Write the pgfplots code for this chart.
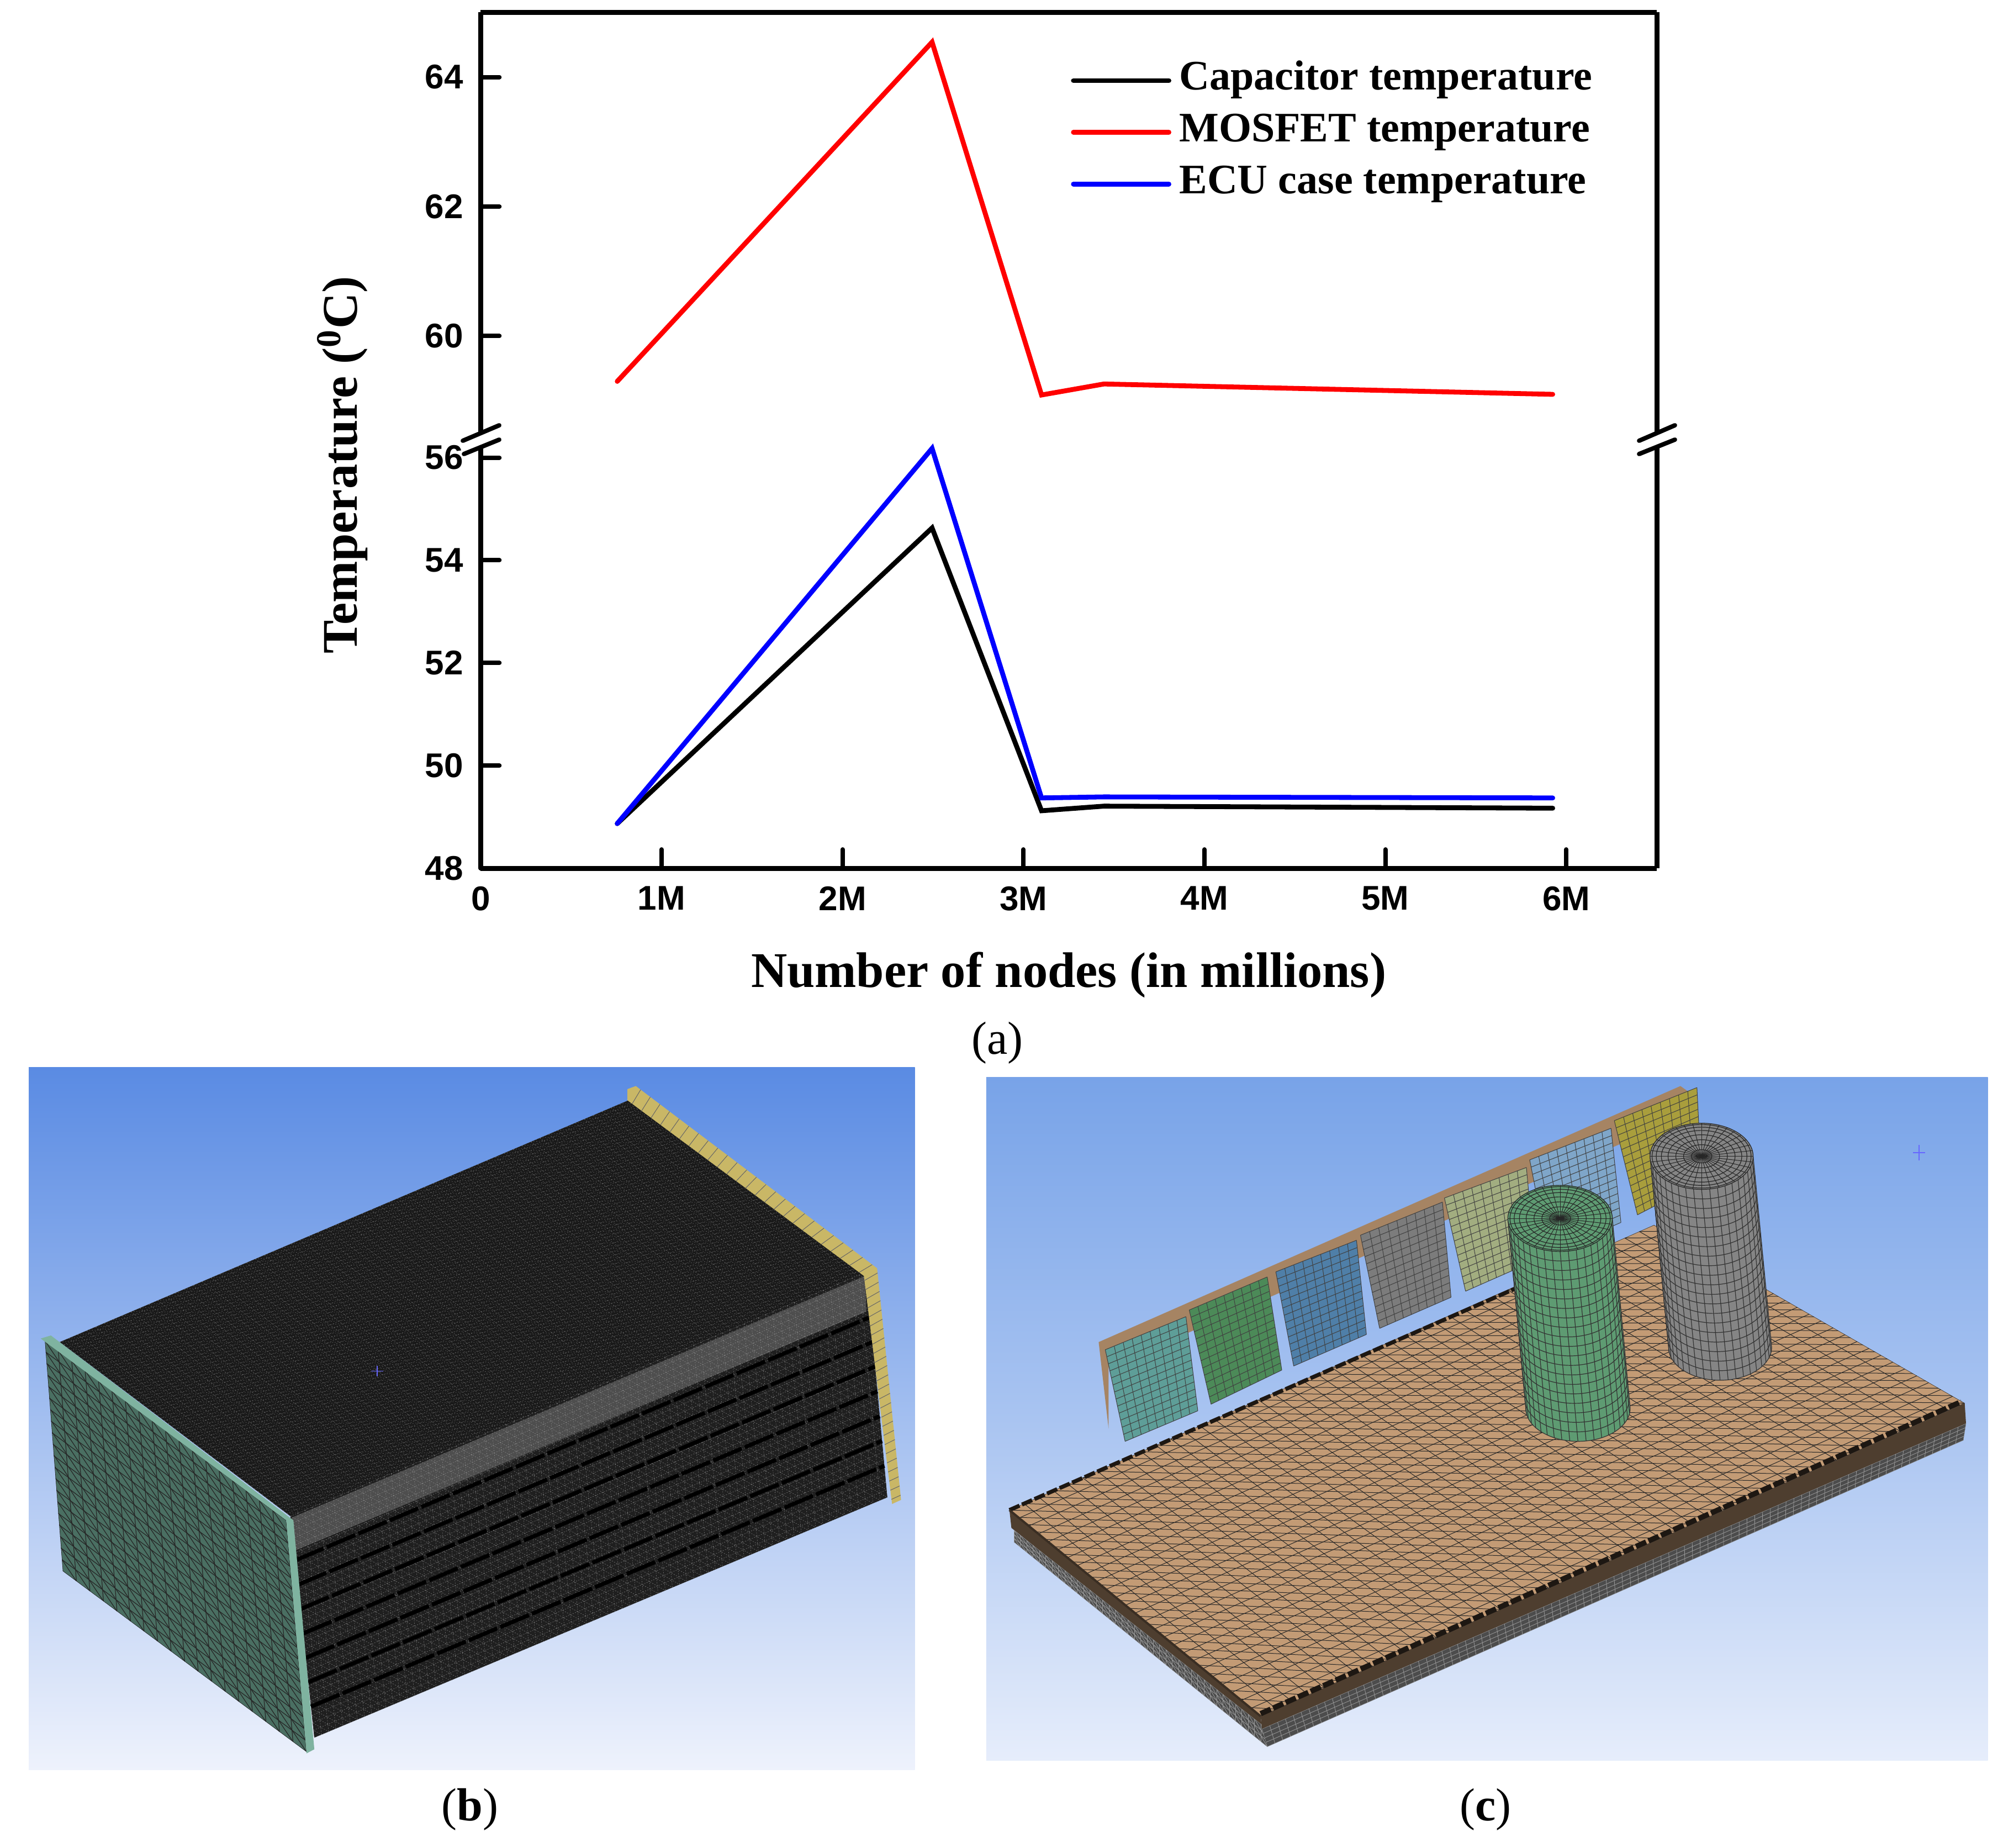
\documentclass[border=0pt]{standalone}
\usepackage{fontspec}
\setmainfont{Liberation Serif}
\newfontfamily\ticksans{Liberation Sans}
\usepackage{pgfplots}
\pgfplotsset{compat=1.18}
\usetikzlibrary{calc}
\definecolor{bgbtop}{HTML}{5A8BE3}
\definecolor{bgbmid}{HTML}{A3BFF0}
\definecolor{bgbbot}{HTML}{EEF2FC}
\definecolor{bgctop}{HTML}{78A3E8}
\definecolor{bgcmid}{HTML}{A9C4F1}
\definecolor{bgcbot}{HTML}{E6EDFB}
\definecolor{platec}{HTML}{4A6F62}
\definecolor{plateedge}{HTML}{7FB3A0}
\definecolor{yellowp}{HTML}{C9B766}
\definecolor{copper}{HTML}{C39B75}
\definecolor{blkteal}{HTML}{5E9E98}
\definecolor{blkgreen}{HTML}{4C8A58}
\definecolor{blkblue}{HTML}{4F7FA8}
\definecolor{blkgray}{HTML}{7C7C7C}
\definecolor{blkkhaki}{HTML}{A2AD80}
\definecolor{blkpale}{HTML}{7FA6C9}
\definecolor{blkolive}{HTML}{A99E3C}
\definecolor{capgreen}{HTML}{5E9B72}
\definecolor{capgray}{HTML}{858585}
% mesh on a quadrilateral: A B C D, Nu, Nv, line style
\newcommand{\quadmesh}[7]{%
  \foreach \i in {0,...,#5}{\draw[#7] ($(#1)!\i/#5!(#2)$) -- ($(#4)!\i/#5!(#3)$);}
  \foreach \j in {0,...,#6}{\draw[#7] ($(#1)!\j/#6!(#4)$) -- ($(#2)!\j/#6!(#3)$);}
}
% same with diagonals, filled and clipped
\newcommand{\trimesh}[8]{%
  \begin{scope}
  \fill[#8] (#1)--(#2)--(#3)--(#4)--cycle;
  \clip (#1)--(#2)--(#3)--(#4)--cycle;
  \quadmesh{#1}{#2}{#3}{#4}{#5}{#6}{#7}
  \pgfmathtruncatemacro{\nneg}{-#6}
  \foreach \i in {\nneg,...,#5}{
    \pgfmathsetmacro{\sa}{\i/#5}
    \pgfmathsetmacro{\sb}{(\i+#6)/#5}
    \draw[#7] ($(#1)!\sa!(#2)$) -- ($(#4)!\sb!(#3)$);
  }
  \end{scope}
}
% block with quad mesh
\newcommand{\block}[5]{%
  \fill[#5] (#1)--(#2)--(#3)--(#4)--cycle;
  \quadmesh{#1}{#2}{#3}{#4}{9}{13}{black!75,line width=0.25pt}
}
% meshed cylinder: top centre x,y, bottom centre x,y, rx, ry, colour
\newcommand{\cyl}[7]{%
  \fill[#7] (#1-#5,#2) -- (#3-#5,#4) arc[start angle=180,end angle=0,x radius=#5,y radius=#6] -- (#1+#5,#2) -- cycle;
  \foreach \k in {1,...,20}{
    \pgfmathsetmacro{\cx}{#1+(#3-#1)*\k/20}
    \pgfmathsetmacro{\cy}{#2+(#4-#2)*\k/20}
    \draw[black!80,line width=0.3pt] (\cx-#5,\cy) arc[start angle=180,end angle=0,x radius=#5,y radius=#6];
  }
  \foreach \a in {0,9,...,180}{
    \draw[black!80,line width=0.3pt] ({#1+#5*cos(\a)},{#2+#6*sin(\a)}) -- ({#3+#5*cos(\a)},{#4+#6*sin(\a)});
  }
  \fill[#7] (#1,#2) ellipse[x radius=#5,y radius=#6];
  \foreach \r in {0.2,0.35,0.5,0.65,0.78,0.88,0.96,1}{
    \draw[black!85,line width=0.3pt] (#1,#2) ellipse[x radius=\r*#5,y radius=\r*#6];
  }
  \foreach \a in {0,10,...,350}{
    \draw[black!85,line width=0.25pt] (#1,#2) -- ({#1+#5*cos(\a)},{#2+#6*sin(\a)});
  }
}
\pgfplotsset{
  brokenaxis/.style={
    scale only axis, width=532.425pt, height=190.5pt,
    xmin=0, xmax=6.5, clip=false,
    axis y line*=left,
    axis line style={line width=2.25pt,-},
    tick align=inside, major tick length=8.5pt,
    every tick/.style={black,line width=2pt,line cap=round},
    /pgf/number format/assume math mode=true,
    tick label style={font=\ticksans\bfseries\fontsize{15.5}{15.5}\selectfont},
    yticklabel style={inner sep=0pt,xshift=-7.7pt},
    xticklabel style={inner sep=0pt,yshift=-8pt},
  },
  series/.style={line width=2.2pt,line cap=round,miter limit=10},
}
\begin{document}
\begin{tikzpicture}
\useasboundingbox (0pt,0pt) rectangle (906.75pt,-836.25pt);
\fill[white] (0pt,0pt) rectangle (906.75pt,-836.25pt);

% ---- panel (b), coordinates as read from the crop
\begin{scope}[shift={(0pt,-475pt)},x=0.27103pt,y=-0.23041pt]
\shade[top color=bgbtop,bottom color=bgbbot,middle color=bgbmid] (48,35) rectangle (1528,1415);
\fill[black!90] (100,575)--(1050,100)--(1447,437)--(1482,880)--(525,1352)--(485,915)--cycle;
% dark top face
\trimesh{100,575}{1050,100}{1447,437}{485,917}{64}{64}{black!60!white,line width=0.14pt,dash pattern=on 0.5pt off 0.7pt}{black!90}
% side face with fins
\trimesh{485,917}{1447,437}{1482,880}{525,1352}{80}{30}{black!50!white,line width=0.14pt,dash pattern=on 0.5pt off 0.6pt}{black!88}
\fill[black!35,opacity=0.35] (487,920)--(1445,445)--(1447,515)--(492,985)--cycle;
\foreach \t in {0.2,0.31,...,0.95}{
  \draw[black,line width=1.8pt,dash pattern=on 14pt off 1.5pt] ($(485,917)!\t!(525,1352)$) -- ($(1447,437)!\t!(1482,880)$);
}
% end plates
\trimesh{75,572}{478,925}{512,1380}{105,1025}{18}{20}{black!85,line width=0.3pt}{platec}
\fill[plateedge] (68,568)--(85,562)--(490,925)--(525,1375)--(512,1383)--(478,925)--cycle;
\fill[yellowp] (1048,78)--(1062,72)--(1465,430)--(1505,885)--(1490,893)--(1443,445)--(1048,100)--cycle;
\foreach \t in {0.02,0.06,...,1}{
  \draw[black!60,line width=0.25pt] ($(1048,100)!\t!(1443,445)$) -- ($(1062,72)!\t!(1465,430)$);
  \draw[black!60,line width=0.25pt] ($(1443,445)!\t!(1490,893)$) -- ($(1465,430)!\t!(1505,885)$);
}
\draw[blue!60!white,line width=0.4pt] (620,632)--(640,632) (630,622)--(630,642);
\end{scope}

% ---- panel (c)
\begin{scope}[shift={(437.5pt,-475pt)},x=0.29927pt,y=-0.23041pt]
\shade[top color=bgctop,bottom color=bgcbot,middle color=bgcmid] (30,55) rectangle (1545,1397);
% backing strip and blocks
\fill[copper!85!black] (200,575)--(1080,72)--(1105,95)--(1105,120)--(215,625)--(215,745)--cycle;
\block{210,590}{332,525}{350,710}{240,770}{blkteal}
\block{337,512}{455,447}{477,630}{370,697}{blkgreen}
\block{468,437}{590,375}{605,560}{495,622}{blkblue}
\block{596,365}{720,300}{733,487}{625,548}{blkgray}
\block{723,292}{847,232}{860,415}{755,475}{blkkhaki}
\block{852,217}{975,155}{990,340}{880,402}{blkpale}
\block{980,140}{1105,75}{1112,260}{1015,325}{blkolive}
% board sides
\fill[black!60!copper] (65,905)--(445,1310)--(447,1335)--(68,940)--cycle;
\trimesh{72,945}{455,1335}{455,1370}{72,968}{40}{3}{black!40,line width=0.2pt}{black!70}
\fill[black!60!copper] (445,1310)--(1510,695)--(1512,735)--(447,1335)--cycle;
\begin{scope}
\fill[black!70] (447,1335)--(1512,735)--(1508,768)--(455,1370)--cycle;
\clip (447,1335)--(1512,735)--(1508,768)--(455,1370)--cycle;
\quadmesh{447,1335}{1512,735}{1508,768}{455,1370}{90}{4}{black!40,line width=0.2pt}
\end{scope}
% board top
\trimesh{65,905}{1040,345}{1510,695}{445,1310}{44}{26}{black!85,line width=0.25pt}{copper}
\draw[black!85!copper,line width=2.4pt,dash pattern=on 5pt off 1.2pt] (445,1305)--(1505,692);
\draw[black!85!copper,line width=1.8pt,dash pattern=on 5pt off 1.2pt] (65,905)--(830,470);
\draw[black!70!copper,line width=1pt] (65,905)--(445,1310);
% capacitors
\cyl{1112}{210}{1140}{585}{78}{65}{capgray}
\cyl{898}{332}{925}{705}{79}{65}{capgreen}
\draw[blue!60!white,line width=0.4pt] (1432,203)--(1450,203) (1441,188)--(1441,218);
\end{scope}

% ---- panel captions
\node[font=\fontsize{21}{21}\selectfont] at (451.5pt,-472pt) {(a)};
\node[font=\fontsize{21}{21}\selectfont] at (212.75pt,-819pt) {(\textbf{b})};
\node[font=\fontsize{21}{21}\selectfont] at (672.5pt,-819pt) {(\textbf{c})};

% ---- chart, upper part of the broken axis
\begin{axis}[brokenaxis, name=upper, at={(217.575pt,-5.575pt)}, anchor=north west,
  axis x line*=top, xtick=\empty,
  ymin=58.5, ymax=65, ytick={60,62,64},
  legend cell align=left,
  legend image code/.code={\draw[#1,line cap=round] (0pt,0pt) -- (43.2pt,0pt);},
  legend style={draw=none, fill=none, at={(0.5016,0.89)}, anchor=north west,
    inner sep=0pt, row sep=3.9pt,
    font=\bfseries\fontsize{19}{19}\selectfont,
    nodes={inner sep=0pt,text height=14pt,text depth=5.5pt},
    /tikz/every odd column/.append style={column sep=3.6pt}},
]
\addlegendimage{series,black}
\addlegendentry{Capacitor temperature}
\addplot[series,red] coordinates {(0.755,59.30) (2.495,64.54) (3.10,59.09) (3.445,59.26) (5.925,59.10)};
\addlegendentry{MOSFET temperature}
\addlegendimage{series,blue}
\addlegendentry{ECU case temperature}
\draw[line width=2.25pt] (rel axis cs:1,0) -- (rel axis cs:1,1);
\end{axis}

% ---- chart, lower part
\begin{axis}[brokenaxis, name=lower, at={(217.575pt,-393pt)}, anchor=south west,
  axis x line*=bottom,
  ymin=48, ymax=56.2, ytick={48,50,52,54,56},
  xtick={0,1,2,3,4,5,6}, xticklabels={0,1M,2M,3M,4M,5M,6M},
  xlabel={Number of nodes (in millions)},
  ylabel={Temperature (\textsuperscript{0}C)},
  every axis x label/.style={at={(axis description cs:0.5,0)},yshift=-48.3pt,anchor=center,
    font=\bfseries\fontsize{22.6}{22.6}\selectfont},
  every axis y label/.style={at={(axis description cs:-0.1175,0.958)},rotate=90,anchor=center,
    font=\bfseries\fontsize{22.6}{22.6}\selectfont},
]
\addplot[series,black] coordinates {(0.755,48.87) (2.495,54.63) (3.10,49.12) (3.445,49.21) (5.925,49.17)};
\addplot[series,blue] coordinates {(0.755,48.87) (2.495,56.18) (3.10,49.37) (3.445,49.39) (5.925,49.37)};
\draw[line width=2.25pt] (rel axis cs:1,0) -- (rel axis cs:1,1);
\end{axis}

% ---- axis break marks
\draw[line width=2pt,line cap=round] (209.5pt,-199.5pt) -- (226pt,-192.5pt)
  (210pt,-205.5pt) -- (226pt,-199pt)
  (742pt,-199.5pt) -- (758.2pt,-192.5pt)
  (742pt,-205.5pt) -- (758.2pt,-199pt);
\end{tikzpicture}
\end{document}
